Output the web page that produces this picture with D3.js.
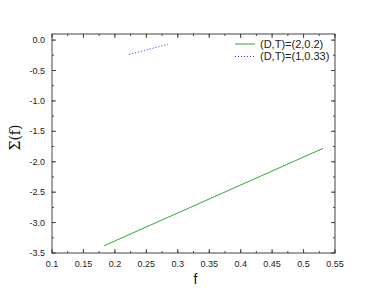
<!DOCTYPE html>
<html>
<head>
<meta charset="utf-8">
<script src="https://cdn.jsdelivr.net/npm/d3@7"></script>
<style>
  body { margin: 0; background: #fff; }
  svg { display: block; font-family: "Liberation Sans", Arial, sans-serif; }
</style>
</head>
<body>
<svg id="chart"></svg>
<script>
// Series values
const greenF = [0.183, 0.531];
const greenS = [-3.38, -1.78];
const blueF = [0.223, 0.284];
const blueS = [-0.235, -0.07];

const legendLabels = ['(D,T)=(2,0.2)', '(D,T)=(1,0.33)'];
const xTicks = [0.1, 0.15, 0.2, 0.25, 0.3, 0.35, 0.4, 0.45, 0.5, 0.55];
const yTicks = [0, -0.5, -1, -1.5, -2, -2.5, -3, -3.5];

const W = 374, H = 288;
const margin = { top: 34, right: 39, bottom: 35, left: 52 };
const width = W - margin.left - margin.right;
const height = H - margin.top - margin.bottom;

const svg = d3.select('#chart').attr('width', W).attr('height', H);
const g = svg.append('g').attr('transform', `translate(${margin.left},${margin.top})`);

const x = d3.scaleLinear().domain([0.1, 0.55]).range([0, width]);
const y = d3.scaleLinear().domain([-3.5, 0.1]).range([height, 0]);

const axisColor = '#444';
const xMinor = d3.range(0, 19).map(i => 0.1 + i * 0.025);
const yMinor = d3.range(0, 15).map(i => -3.5 + i * 0.25);

// Ticks (inward, on all four sides)
function tickSet(vals, major) {
  const len = major ? 4 : 2;
  vals.forEach(v => {
    g.append('line').attr('x1', x(v)).attr('x2', x(v)).attr('y1', height).attr('y2', height - len)
      .attr('stroke', axisColor);
    g.append('line').attr('x1', x(v)).attr('x2', x(v)).attr('y1', 0).attr('y2', len)
      .attr('stroke', axisColor);
  });
}
tickSet(xMinor, false);
tickSet(xTicks, true);
function ytickSet(vals, major) {
  const len = major ? 4 : 2;
  vals.forEach(v => {
    g.append('line').attr('y1', y(v)).attr('y2', y(v)).attr('x1', 0).attr('x2', len)
      .attr('stroke', axisColor);
    g.append('line').attr('y1', y(v)).attr('y2', y(v)).attr('x1', width).attr('x2', width - len)
      .attr('stroke', axisColor);
  });
}
ytickSet(yMinor, false);
ytickSet(yTicks, true);

// Frame
g.append('rect').attr('width', width).attr('height', height)
  .attr('fill', 'none').attr('stroke', axisColor).attr('stroke-width', 1);

// Tick labels
g.selectAll('.xl').data(xTicks).enter().append('text')
  .attr('x', d => x(d)).attr('y', height + 14)
  .attr('text-anchor', 'middle').style('font-size', '9px').attr('fill', '#222')
  .text(d => d3.format('')(d));

g.selectAll('.yl').data(yTicks).enter().append('text')
  .attr('x', -7).attr('y', d => y(d)).attr('dy', '0.35em')
  .attr('text-anchor', 'end').style('font-size', '9px').attr('fill', '#222')
  .text(d => d3.format('.1f')(d).replace('−', '-'));

// Axis titles
g.append('text').attr('x', width / 2 + 2).attr('y', height + 31)
  .attr('text-anchor', 'middle').style('font-size', '14px').attr('fill', '#111').text('f');
g.append('text')
  .attr('transform', `translate(${-32},${height / 2 - 6}) rotate(-90)`)
  .attr('text-anchor', 'middle').style('font-size', '14px').attr('fill', '#111')
  .style('font-family', '"DejaVu Serif", serif')
  .text('Σ(f)');

// Lines
const line = d3.line().x(d => x(d[0])).y(d => y(d[1]));
g.append('path').datum(d3.zip(greenF, greenS)).attr('d', line)
  .attr('fill', 'none').attr('stroke', '#33aa33').attr('stroke-width', 1);
g.append('path').datum(d3.zip(blueF, blueS)).attr('d', line)
  .attr('fill', 'none').attr('stroke', '#3333ee').attr('stroke-width', 1)
  .attr('stroke-dasharray', '1,2');

// Legend
const legend = g.append('g').attr('transform', `translate(${width - 100},${10})`);
const styles = [{ c: '#33aa33', d: null }, { c: '#3333ee', d: '1,2' }];
legendLabels.forEach((lab, i) => {
  legend.append('line').attr('x1', 0).attr('x2', 20).attr('y1', i * 12.5).attr('y2', i * 12.5)
    .attr('stroke', styles[i].c).attr('stroke-dasharray', styles[i].d);
  legend.append('text').attr('x', 25).attr('y', i * 12.5).attr('dy', '0.35em')
    .style('font-size', '11px').attr('fill', '#222').text(lab);
});
</script>
</body>
</html>
